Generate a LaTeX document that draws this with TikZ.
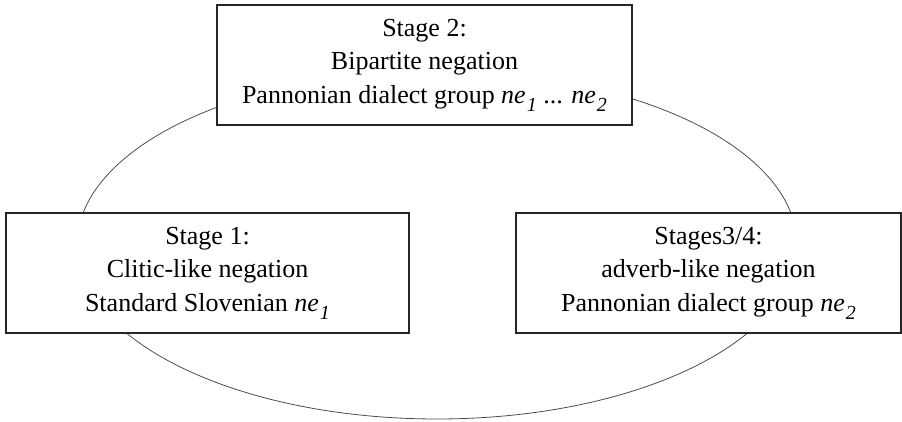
\documentclass[tikz,border=0pt]{standalone}
\usepackage{fontspec}
\setmainfont{Liberation Serif}
\usepackage{tikz}
\tikzset{every picture/.style={x=0.5pt,y=-0.5pt}}
\tikzset{stagebox/.style={draw=black!85, fill=white, line width=0.6pt, align=center,
    minimum height=60pt, inner sep=0pt, font=\fontsize{13}{16.75}\selectfont}}
\newcommand{\nesub}[1]{\textit{ne}\kern0.5pt\raisebox{-0.3em}{\fontsize{10}{10}\selectfont\textit{#1}}}

\begin{document}
\begin{tikzpicture}

    % Fix the page size
    \useasboundingbox (0,0) rectangle (902,422);

    % Define the centre of the cycle
    \def\centerx{437}
    \def\centery{245}

    % Draw the cycle behind the boxes
    \draw[black!70, line width=0.4pt] (\centerx,\centery) ellipse [x radius=180pt, y radius=87pt];

    % Stage boxes
    \node[stagebox, minimum width=201.5pt] (stage1) at (207.5,273)
        {Stage 1:\\Clitic-like negation\\Standard Slovenian \nesub{1}};
    \node[stagebox, minimum width=207.5pt] (stage2) at (424.5,65)
        {Stage 2:\\Bipartite negation\\Pannonian dialect group \nesub{1} ... \nesub{2}};
    \node[stagebox, minimum width=192.5pt] (stage3) at (708.5,273)
        {Stages3/4:\\adverb-like negation\\Pannonian dialect group \nesub{2}};

\end{tikzpicture}
\end{document}
